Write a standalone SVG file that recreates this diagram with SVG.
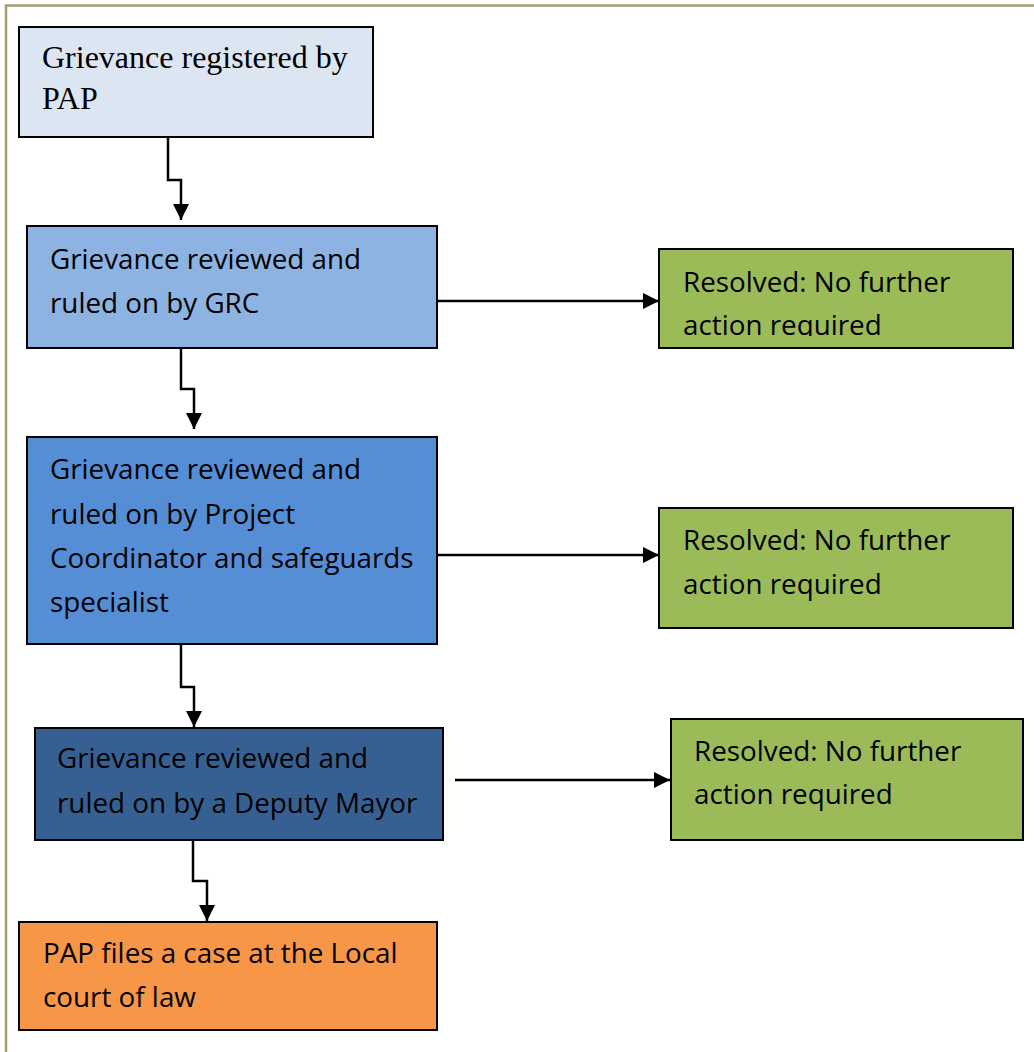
<svg xmlns="http://www.w3.org/2000/svg" width="1034" height="1052" viewBox="0 0 1034 1052">
  <style>
    .box { stroke: #000; stroke-width: 2; }
    .serif { font-family: "Liberation Serif", "Times New Roman", serif; font-size: 32px; fill: #000; }
    .sans { font-family: "Open Sans", "Noto Sans", sans-serif; font-size: 27.8px; fill: #000; }
    .conn { fill: none; stroke: #000; stroke-width: 2.5; marker-end: url(#arrow); }
  </style>
  <defs>
    <marker id="arrow" markerUnits="userSpaceOnUse" markerWidth="18" markerHeight="18" refX="16" refY="8" orient="auto">
      <path d="M0,0 L16,8 L0,16 Z" fill="#000"/>
    </marker>
    <clipPath id="clipR1"><rect x="659" y="249" width="354" height="87"/></clipPath>
  </defs>
  <rect width="1034" height="1052" fill="#fff"/>
  <path d="M6,1052 V5.5 H1034" fill="none" stroke="#a39d6e" stroke-width="2.5"/>

  <g id="node-registered">
    <rect class="box" x="19" y="27" width="354" height="110" fill="#dce6f2"/>
    <text class="serif" x="42" y="68">Grievance registered by</text>
    <text class="serif" x="42" y="109">PAP</text>
  </g>
  <g id="node-grc">
    <rect class="box" x="27" y="226" width="410" height="122" fill="#8db3e2"/>
    <text class="sans" x="50" y="269">Grievance reviewed and</text>
    <text class="sans" x="50" y="313">ruled on by GRC</text>
  </g>
  <g id="node-resolved-1">
    <rect class="box" x="659" y="249" width="354" height="99" fill="#9bbb59"/>
    <g clip-path="url(#clipR1)">
      <text class="sans" x="683" y="292">Resolved: No further</text>
      <text class="sans" x="683" y="335">action required</text>
    </g>
  </g>
  <g id="node-coordinator">
    <rect class="box" x="27" y="437" width="410" height="207" fill="#558ed5"/>
    <text class="sans" x="50" y="479">Grievance reviewed and</text>
    <text class="sans" x="50" y="524">ruled on by Project</text>
    <text class="sans" x="50" y="568">Coordinator and safeguards</text>
    <text class="sans" x="50" y="612">specialist</text>
  </g>
  <g id="node-resolved-2">
    <rect class="box" x="659" y="508" width="354" height="120" fill="#9bbb59"/>
    <text class="sans" x="683" y="550">Resolved: No further</text>
    <text class="sans" x="683" y="594">action required</text>
  </g>
  <g id="node-deputy-mayor">
    <rect class="box" x="35" y="728" width="408" height="112" fill="#376092"/>
    <text class="sans" x="57" y="768">Grievance reviewed and</text>
    <text class="sans" x="57" y="813">ruled on by a Deputy Mayor</text>
  </g>
  <g id="node-resolved-3">
    <rect class="box" x="671" y="719" width="352" height="121" fill="#9bbb59"/>
    <text class="sans" x="694" y="761">Resolved: No further</text>
    <text class="sans" x="694" y="804">action required</text>
  </g>
  <g id="node-court">
    <rect class="box" x="19" y="922" width="418" height="108" fill="#f79646"/>
    <text class="sans" x="43" y="963">PAP files a case at the Local</text>
    <text class="sans" x="43" y="1007">court of law</text>
  </g>

  <g id="connectors">
    <path class="conn" d="M168,137 V180 H181 V220"/>
    <path class="conn" d="M181,348 V389 H194 V429"/>
    <path class="conn" d="M181,644 V687 H194 V727"/>
    <path class="conn" d="M193,840 V881 H207 V921"/>
    <path class="conn" d="M437,301 H659"/>
    <path class="conn" d="M437,555 H659"/>
    <path class="conn" d="M455,780 H670"/>
  </g>
</svg>
